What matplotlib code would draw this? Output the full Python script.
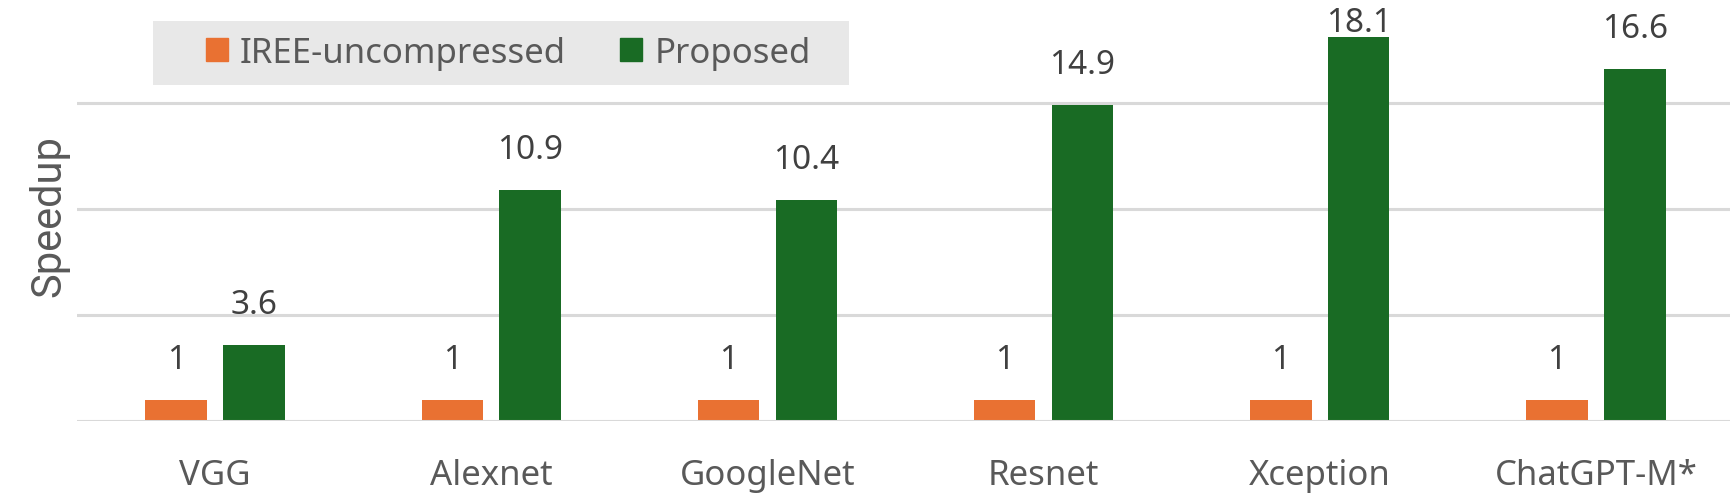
import numpy as np
import matplotlib
matplotlib.use('Agg')
from matplotlib import pyplot as plt
from matplotlib.patches import Rectangle, Patch

# data
categories = ['VGG', 'Alexnet', 'GoogleNet', 'Resnet', 'Xception', 'ChatGPT-M*']
iree = [1, 1, 1, 1, 1, 1]
proposed = [3.6, 10.9, 10.4, 14.9, 18.1, 16.6]
series_names = ['IREE-uncompressed', 'Proposed']

orange = '#e97132'
green = '#196b24'
grid_col = '#d9d9d9'
txt_col = '#595959'
lab_col = '#404040'

plt.rcParams['font.family'] = ['Noto Sans', 'DejaVu Sans']

fig = plt.figure(figsize=(17.31, 5.02), dpi=100)
ax = fig.add_axes([77/1731, 80/502, 1657/1731, 422/502])

x = np.arange(len(categories))
w = 0.223
off = 0.141
ax.bar(x - off, iree, w, color=orange, zorder=2)
ax.bar(x + off, proposed, w, color=green, zorder=2)

ymax = 19.9
ax.set_ylim(0, ymax)
ax.set_xlim(-0.5, len(categories) - 0.5)

# gridlines
for g in [5, 10, 15]:
    ax.axhline(g, color=grid_col, lw=2.2, zorder=1)
ax.axhline(0, color=grid_col, lw=2.2, zorder=3)

# value labels (baseline ~32px above the bar, kept inside the plot)
gap = 1.51
top_lim = 18.4
def fmt(v):
    return '%g' % v
for xi, v in zip(x, iree):
    ax.text(xi - off, min(v + gap, top_lim), fmt(v), ha='center', va='baseline',
            fontsize=24, color=lab_col, clip_on=False)
for xi, v in zip(x, proposed):
    ax.text(xi + off, min(v + gap, top_lim), fmt(v), ha='center', va='baseline',
            fontsize=24, color=lab_col, clip_on=False)

ax.set_xticks(x)
ax.set_xticklabels(categories, fontsize=25, color=txt_col)
ax.tick_params(axis='x', length=0, pad=27)
ax.set_yticks([])
for s in ax.spines.values():
    s.set_visible(False)

ax.set_ylabel('Speedup', fontsize=30, color=txt_col, family=['Roboto', 'DejaVu Sans'])
ax.yaxis.set_label_coords(-0.0045, 0.488)

# legend with grey background box
fig.patches.append(Rectangle((153/1731, 1 - 86/502), 696/1731, 64/502,
                             transform=fig.transFigure, facecolor='#e8e8e8',
                             edgecolor='none', zorder=0))
handles = [Patch(color=orange), Patch(color=green)]
leg = fig.legend(handles, series_names, loc='center left',
                 bbox_to_anchor=(206/1731, 1 - 54/502), ncol=2, frameon=False,
                 fontsize=25, handlelength=0.63, handleheight=0.63,
                 handletextpad=0.35, columnspacing=1.56, borderpad=0,
                 borderaxespad=0, labelcolor=txt_col)

plt.savefig('out.png', dpi=100)
